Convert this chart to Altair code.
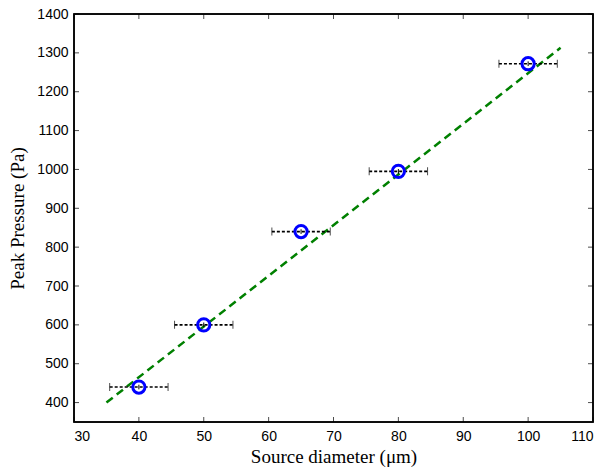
import altair as alt
import pandas as pd

# Data
diam = [40, 50, 65, 80, 100]
pressure = [440, 600, 840, 995, 1272]
diam_lo = [35.5, 45.5, 60.5, 75.5, 95.5]
diam_hi = [44.5, 54.5, 69.5, 84.5, 104.5]
p_lo = [434, 594, 834, 989, 1266]
p_hi = [446, 606, 846, 1001, 1278]
fit_x = [35, 105]
fit_y = [400, 1313]
x_ticks = [30, 40, 50, 60, 70, 80, 90, 100, 110]
y_ticks = [400, 500, 600, 700, 800, 900, 1000, 1100, 1200, 1300, 1400]

W, H = 519, 408
TL = 5  # inward tick length in px

df = pd.DataFrame({"d": diam, "p": pressure, "lo": diam_lo, "hi": diam_hi,
                   "plo": p_lo, "phi": p_hi})
fit = pd.DataFrame({"d": fit_x, "p": fit_y})
xt = pd.DataFrame({"v": x_ticks})
yt = pd.DataFrame({"v": y_ticks})

xs = alt.Scale(domain=[30, 110], nice=False, zero=False)
ys = alt.Scale(domain=[350, 1400], nice=False, zero=False)

xaxis = alt.Axis(values=x_ticks, format="d", ticks=False, domain=False, grid=False,
                 labelFont="Liberation Sans", labelFontSize=14, labelColor="#000",
                 labelPadding=7, title="Source diameter (\u03bcm)",
                 titleFont="Liberation Serif", titleFontSize=19, titleFontWeight="normal",
                 titleColor="#000", titlePadding=4)
yaxis = alt.Axis(values=y_ticks, format="d", ticks=False, domain=False, grid=False,
                 labelFont="Liberation Sans", labelFontSize=14, labelColor="#000",
                 labelPadding=6, title="Peak Pressure (Pa)",
                 titleFont="Liberation Serif", titleFontSize=19, titleFontWeight="normal",
                 titleColor="#000", titlePadding=9)

base = alt.Chart(df)

fit_line = alt.Chart(fit).mark_line(color="#008000", strokeWidth=2.5,
                                    strokeDash=[8, 5]).encode(
    x=alt.X("d:Q", scale=xs, axis=xaxis),
    y=alt.Y("p:Q", scale=ys, axis=yaxis),
)

err = base.mark_rule(color="black", strokeWidth=1.6, strokeDash=[3, 2]).encode(
    x=alt.X("lo:Q", scale=xs), x2="hi:Q", y=alt.Y("p:Q", scale=ys))
cap_lo = base.mark_tick(orient="vertical", color="black", size=8, thickness=1).encode(
    x=alt.X("lo:Q", scale=xs), y=alt.Y("p:Q", scale=ys))
cap_hi = base.mark_tick(orient="vertical", color="black", size=8, thickness=1).encode(
    x=alt.X("hi:Q", scale=xs), y=alt.Y("p:Q", scale=ys))
verr = base.mark_rule(color="black", strokeWidth=1).encode(
    x=alt.X("d:Q", scale=xs), y=alt.Y("plo:Q", scale=ys), y2="phi:Q")

pts = base.mark_point(shape="circle", filled=False, color="#0000ff", strokeWidth=3,
                      size=150, opacity=1).encode(
    x=alt.X("d:Q", scale=xs), y=alt.Y("p:Q", scale=ys))

tick_x_bot = alt.Chart(xt).mark_tick(orient="vertical", color="black", size=TL,
                                     thickness=1).encode(
    x=alt.X("v:Q", scale=xs), y=alt.value(H - TL / 2))
tick_x_top = alt.Chart(xt).mark_tick(orient="vertical", color="black", size=TL,
                                     thickness=1).encode(
    x=alt.X("v:Q", scale=xs), y=alt.value(TL / 2))
tick_y_l = alt.Chart(yt).mark_tick(orient="horizontal", color="black", size=TL,
                                   thickness=1).encode(
    y=alt.Y("v:Q", scale=ys), x=alt.value(TL / 2))
tick_y_r = alt.Chart(yt).mark_tick(orient="horizontal", color="black", size=TL,
                                   thickness=1).encode(
    y=alt.Y("v:Q", scale=ys), x=alt.value(W - TL / 2))

frame = alt.Chart(fit).mark_rect(fill=None, stroke="black", strokeWidth=1.5).encode(
    x=alt.value(0), x2=alt.value(W), y=alt.value(0), y2=alt.value(H))

chart = alt.layer(fit_line, err, cap_lo, cap_hi, verr, pts,
                  tick_x_bot, tick_x_top, tick_y_l, tick_y_r, frame).properties(
    width=W, height=H,
    autosize=alt.AutoSizeParams(type="none"),
    padding={"left": 74, "top": 14, "right": 13, "bottom": 49},
).configure_view(stroke=None).configure(background="white")

chart.save("out.html", embed_options={"renderer": "svg", "actions": False})
